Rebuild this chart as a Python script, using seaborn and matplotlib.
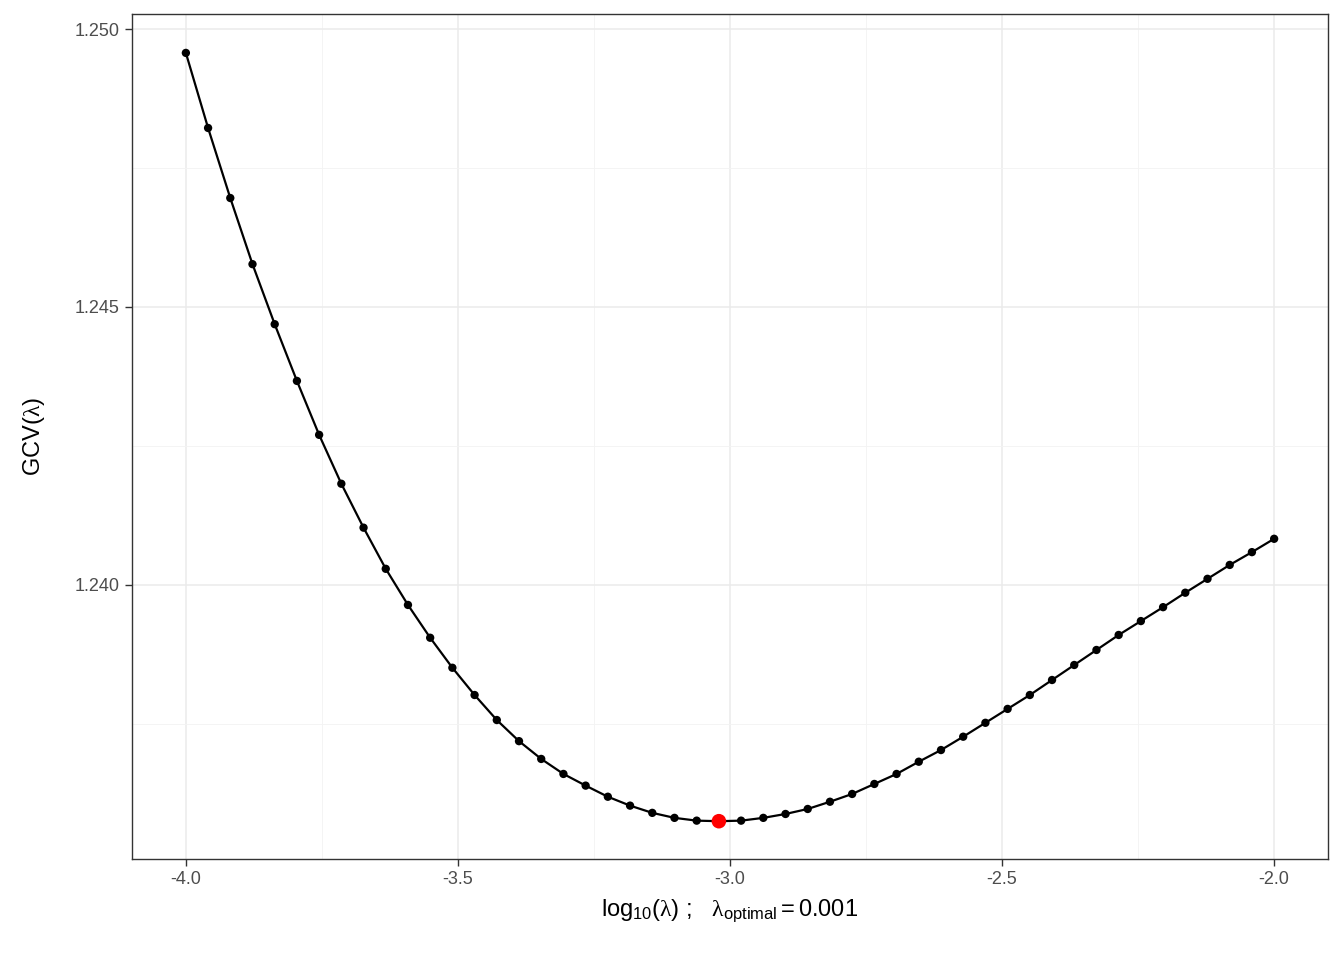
import numpy as np
import pandas as pd
import matplotlib
matplotlib.use('Agg')
import matplotlib.pyplot as plt
import seaborn as sns
from matplotlib.ticker import MultipleLocator

# grid of log10(lambda) values
log_lambda = np.linspace(-4.0, -2.0, 50)
gcv = [1.24957, 1.24822, 1.24696, 1.24577, 1.24469, 1.24367, 1.24270, 1.24182,
       1.24103, 1.24029, 1.23964, 1.23905, 1.23851, 1.23802, 1.23757, 1.23719,
       1.23687, 1.23660, 1.23639, 1.23619, 1.23603, 1.23590, 1.23581, 1.23576,
       1.23575, 1.23576, 1.23581, 1.23588, 1.23597, 1.23610, 1.23624, 1.23642,
       1.23660, 1.23682, 1.23703, 1.23727, 1.23752, 1.23777, 1.23802, 1.23829,
       1.23856, 1.23883, 1.23910, 1.23935, 1.23960, 1.23986, 1.24011, 1.24036,
       1.24059, 1.24083]
opt_index = 24

df = pd.DataFrame({'log_lambda': log_lambda, 'gcv': gcv})

sns.set_style('white')
plt.rcParams['font.family'] = ['Arial', 'Liberation Sans', 'DejaVu Sans']
plt.rcParams['mathtext.fontset'] = 'custom'
plt.rcParams['mathtext.rm'] = 'Liberation Sans'
plt.rcParams['mathtext.it'] = 'Liberation Serif'

fig = plt.figure(figsize=(13.44, 9.6), dpi=100)
ax = fig.add_axes([132 / 1344, 1 - 859 / 960, (1328 - 132) / 1344, (859 - 14) / 960])

sns.lineplot(data=df, x='log_lambda', y='gcv', color='black', linewidth=1.6, ax=ax)
sns.scatterplot(data=df, x='log_lambda', y='gcv', color='black', s=36, edgecolor='none', ax=ax, zorder=3)
sns.scatterplot(x=[df.log_lambda[opt_index]], y=[df.gcv[opt_index]], color='red', s=110,
                edgecolor='none', ax=ax, zorder=4)

ax.xaxis.set_major_locator(MultipleLocator(0.5))
ax.xaxis.set_minor_locator(MultipleLocator(0.25))
ax.yaxis.set_major_locator(MultipleLocator(0.005))
ax.yaxis.set_minor_locator(MultipleLocator(0.0025))
ax.set_xticks(ax.get_xticks())
ax.set_xticklabels([f'{t:.1f}' for t in ax.get_xticks()])
ax.set_yticks(ax.get_yticks())
ax.set_yticklabels([f'{t:.3f}' for t in ax.get_yticks()])
ax.set_xlim(-4.099, -1.901)
ax.set_ylim(1.23507, 1.25027)

ax.grid(which='major', color='#EBEBEB', linewidth=1.1)
ax.grid(which='minor', color='#F3F3F3', linewidth=0.6)
ax.set_axisbelow(True)
for s in ax.spines.values():
    s.set_color('#333333')
    s.set_linewidth(1.0)
ax.tick_params(axis='both', which='major', bottom=True, left=True, direction='out', length=5,
               width=1, color='#333333', labelcolor='#4D4D4D', labelsize=13, pad=4)
ax.tick_params(which='minor', length=0)

ax.set_xlabel(r'$\mathrm{log}_{10}(\lambda)$ ;   $\lambda_{\mathrm{optimal}} = \mathrm{0.001}$',
              fontsize=17, color='black', labelpad=6)
ax.set_ylabel(r'GCV($\lambda$)', fontsize=17, color='black', labelpad=20)

fig.savefig('out.png', dpi=100)
